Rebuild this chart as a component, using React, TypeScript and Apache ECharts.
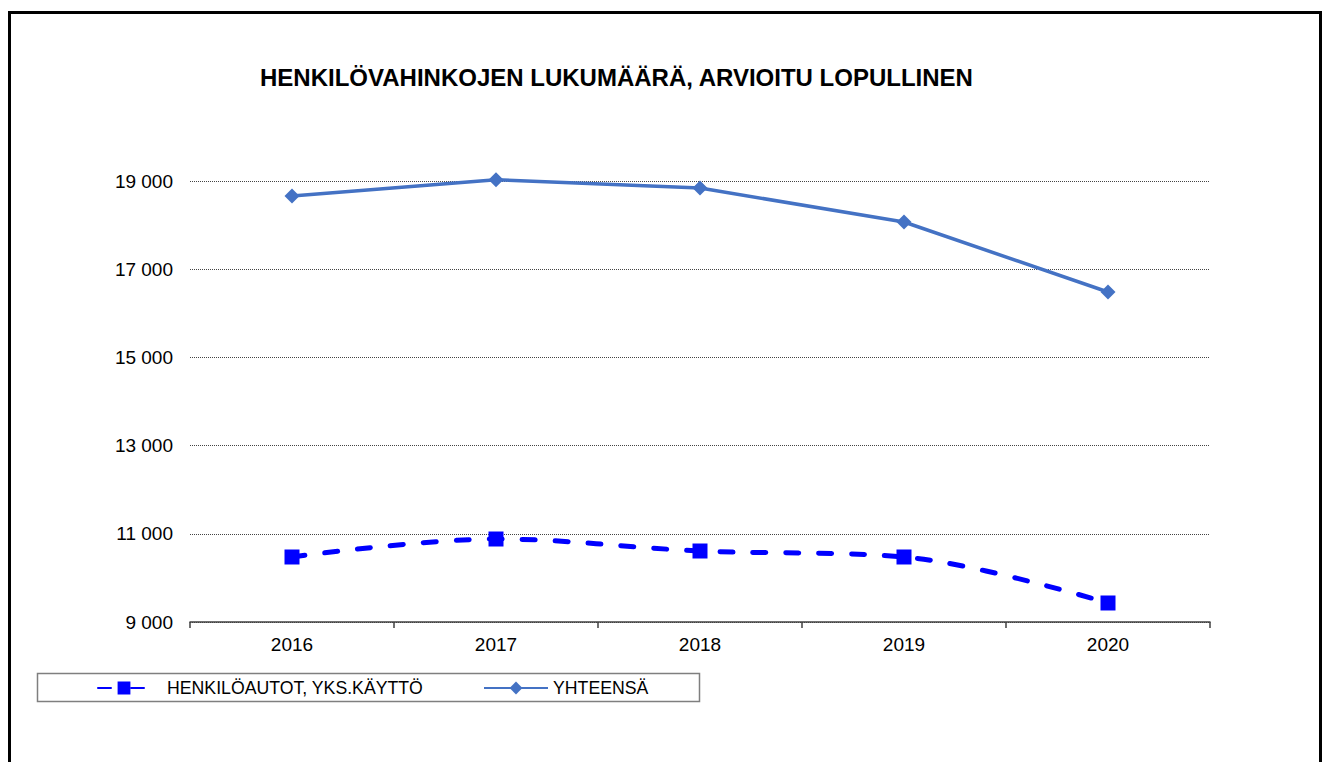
import React, { useEffect, useRef } from "react";
import * as echarts from "echarts";

const years = ["2016", "2017", "2018", "2019", "2020"];
const henkiloautot = [10474, 10882, 10610, 10474, 9431];
const yhteensa = [18660, 19030, 18840, 18070, 16483];
const titleText = "HENKILÖVAHINKOJEN LUKUMÄÄRÄ, ARVIOITU LOPULLINEN";
const nameA = "HENKILÖAUTOT, YKS.KÄYTTÖ";
const nameB = "YHTEENSÄ";

const FONT = "'Liberation Sans', Arial, sans-serif";

export default function App() {
  const ref = useRef<HTMLDivElement>(null);
  useEffect(() => {
    if (!ref.current) return;
    const chart = echarts.init(ref.current, null, { renderer: "svg" });
    chart.setOption({
      animation: false,
      backgroundColor: "#ffffff",
      textStyle: { fontFamily: FONT },
      title: {
        text: titleText,
        left: 260,
        top: 65,
        padding: 0,
        textStyle: { fontFamily: FONT, fontSize: 24, fontWeight: "bold", color: "#000" },
      },
      graphic: [
        {
          type: "rect",
          shape: { x: 9.5, y: 12.5, width: 1311, height: 800 },
          style: { fill: "none", stroke: "#000", lineWidth: 3 },
          silent: true,
          z: 100,
        },
        {
          type: "rect",
          shape: { x: 37.5, y: 673.5, width: 662, height: 28 },
          style: { fill: "none", stroke: "#7f7f7f", lineWidth: 1.5 },
          silent: true,
        },
      ],
      legend: [
        {
          data: [nameA],
          left: 97,
          top: 679,
          padding: 0,
          itemWidth: 52,
          itemHeight: 16,
          textStyle: { fontFamily: FONT, fontSize: 17.7, color: "#000", padding: [0, 0, 0, 12] },
        },
        {
          data: [nameB],
          left: 483,
          top: 679,
          padding: 0,
          itemWidth: 64,
          itemHeight: 16,
          textStyle: { fontFamily: FONT, fontSize: 17.7, color: "#000" },
        },
      ],
      grid: { left: 190, right: 112, top: 181, bottom: 140, containLabel: false },
      xAxis: {
        type: "category",
        data: years,
        boundaryGap: true,
        axisLine: { show: true, lineStyle: { color: "#404040", width: 1.5 } },
        axisTick: { show: true, length: 6, inside: false, lineStyle: { color: "#404040", width: 1.5 } },
        axisLabel: { fontFamily: FONT, fontSize: 19, color: "#000", margin: 13 },
        splitLine: { show: false },
      },
      yAxis: {
        type: "value",
        min: 9000,
        max: 19000,
        interval: 2000,
        axisLine: { show: false },
        axisTick: { show: false },
        axisLabel: {
          fontFamily: FONT,
          fontSize: 19,
          color: "#000",
          margin: 17,
          formatter: (v: number) => String(v).replace(/\B(?=(\d{3})+(?!\d))/g, " "),
        },
        splitLine: { show: true, lineStyle: { color: "#444", type: "dotted", width: 1 } },
      },
      series: [
        {
          name: nameA,
          type: "line",
          data: henkiloautot,
          smooth: 0.35,
          clip: false,
          symbol: "rect",
          symbolSize: 15,
          itemStyle: { color: "#0000FF" },
          lineStyle: { color: "#0000FF", width: 5, type: [13, 20], cap: "round" },
          z: 3,
        },
        {
          name: nameB,
          type: "line",
          data: yhteensa,
          smooth: false,
          clip: false,
          symbol: "diamond",
          symbolSize: 15,
          itemStyle: { color: "#4472C4" },
          lineStyle: { color: "#4472C4", width: 3.5 },
          z: 2,
        },
      ],
    });
    return () => chart.dispose();
  }, []);
  return (
    <div
      ref={ref}
      style={{ position: "absolute", left: 0, top: 0, width: 1322, height: 762 }}
    />
  );
}
